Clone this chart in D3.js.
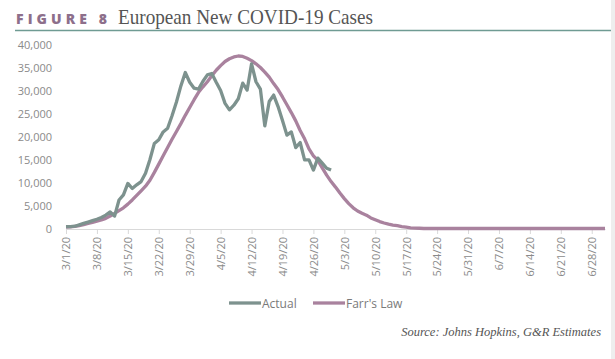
<!DOCTYPE html>
<html><head><meta charset="utf-8">
<script src="https://cdn.jsdelivr.net/npm/d3@7"></script>
<style>body{margin:0;background:#fff;} svg{display:block;}</style>
</head><body>
<svg id="c" width="615" height="359"></svg>
<script>
const startDate = "2020-03-01";
const endDate = "2020-07-01";
const yTicks = [0,5000,10000,15000,20000,25000,30000,35000,40000];
const xTickLabels = ["3/1/20","3/8/20","3/15/20","3/22/20","3/29/20","4/5/20","4/12/20","4/19/20","4/26/20","5/3/20","5/10/20","5/17/20","5/24/20","5/31/20","6/7/20","6/14/20","6/21/20","6/28/20"];
const seriesNames = ["Actual","Farr's Law"];
const actual = [400,400,500,800,1100,1400,1700,2000,2400,2900,3600,2700,6200,7300,9800,8700,9500,10200,12000,15000,
  18500,19300,21000,21800,24500,27500,31000,33900,31800,30500,30300,32000,33400,33700,31800,30000,27200,25800,26800,28200,
  31600,30100,35800,31900,30300,22300,27600,29000,26500,23500,20300,21000,17600,18700,14900,14900,12700,15300,14200,13100,12700];
const farr = [300,350,450,650,850,1100,1350,1600,1850,2200,2700,3300,3900,4500,5300,6200,7200,8200,9200,10500,
  12200,14000,15800,17600,19400,21100,22800,24600,26300,28000,29600,30800,31900,33200,34400,35400,36300,36900,37300,37500,
  37400,37000,36500,35800,35000,34000,32900,31500,30200,28600,26900,25200,23400,21300,19500,17300,15800,14800,13200,11600,
  10200,9000,7700,6500,5400,4500,3800,3300,2900,2300,1900,1500,1200,950,750,600,400,300,150,80,
  50,0,0,0,0,0,0,0,0,0,0,0,0,0,0,0,0,0,0,0,
  0,0,0,0,0,0,0,0,0,0,0,0,0,0,0,0,0,0,0,0,
  0,0,0];
const colors = ["#7d928e","#a9829e"];

const svg = d3.select("#c");
const parse = d3.utcParse("%Y-%m-%d");
const t0 = parse(startDate), t1 = parse(endDate);
const day = (i) => d3.utcDay.offset(t0, i);
const x = d3.scaleUtc().domain([t0, t1]).range([66, 605]);
const y = d3.scaleLinear().domain([0, 40000]).range([228.5, 44.5]);

// right edge strip
svg.append("rect").attr("x",611).attr("y",0).attr("width",4).attr("height",359).attr("fill","#eeeeee");

// title
svg.append("text").attr("x",16).attr("y",24).text("FIGURE 8")
  .attr("font-family","'Open Sans', sans-serif").attr("font-weight","800")
  .attr("font-size",14).attr("textLength",91).attr("lengthAdjust","spacing").attr("fill","#8d6f8b");
svg.append("text").attr("x",118).attr("y",24).text("European New COVID-19 Cases")
  .attr("font-family","'Liberation Serif', serif").attr("font-size",21)
  .attr("textLength",255).attr("lengthAdjust","spacingAndGlyphs").attr("fill","#555555");
svg.append("line").attr("x1",15).attr("x2",611).attr("y1",30.5).attr("y2",30.5).attr("stroke","#6f9b93").attr("stroke-width",1.5);

// y axis labels
const yAxis = d3.axisLeft(y).tickValues(yTicks).tickSize(0).tickPadding(0).tickFormat(d3.format(","));
const gy = svg.append("g").attr("transform","translate(52,0)").call(yAxis);
gy.select(".domain").remove();
gy.selectAll("text").attr("font-family","'Open Sans', sans-serif").attr("font-size",11).attr("fill","#8a8a8a");

// x axis
const xTicks = xTickLabels.map((s,i)=>day(i*7));
const xAxis = d3.axisBottom(x).tickValues(xTicks).tickSize(5).tickSizeOuter(0).tickFormat((d,i)=>xTickLabels[i]);
const gx = svg.append("g").attr("transform","translate(0,229)").call(xAxis);
gx.select(".domain").attr("stroke","#d9d9d9").attr("stroke-width",1.2);
gx.selectAll(".tick line").attr("stroke","#d9d9d9");
gx.selectAll("text").attr("font-family","'Open Sans', sans-serif").attr("font-size",11).attr("fill","#8a8a8a")
  .attr("transform","rotate(-90)").attr("text-anchor","end").attr("x",-8).attr("y",0).attr("dy","0.35em");

// lines
const line = d3.line().x((d,i)=>x(day(i))).y(d=>y(d)).curve(d3.curveLinear);
svg.append("path").datum(farr).attr("d",line).attr("fill","none").attr("stroke",colors[1]).attr("stroke-width",3.3).attr("stroke-linejoin","round");
svg.append("path").datum(actual).attr("d",line).attr("fill","none").attr("stroke",colors[0]).attr("stroke-width",3.3).attr("stroke-linejoin","round");

// legend
const lg = svg.append("g");
const legX = [229, 313];
seriesNames.forEach((n,i)=>{
  lg.append("line").attr("x1",legX[i]).attr("x2",legX[i]+32).attr("y1",303).attr("y2",303).attr("stroke",colors[i]).attr("stroke-width",3.3);
  lg.append("text").attr("x",legX[i]+33).attr("y",307.5).text(n).attr("font-family","'Open Sans', sans-serif").attr("font-size",12).attr("fill","#7a7a7a");
});

// source
svg.append("text").attr("x",601).attr("y",336).attr("text-anchor","end").text("Source: Johns Hopkins, G&R Estimates")
  .attr("font-family","'Liberation Serif', serif").attr("font-style","italic").attr("font-size",12.5).attr("fill","#555555");
</script>
</body></html>
